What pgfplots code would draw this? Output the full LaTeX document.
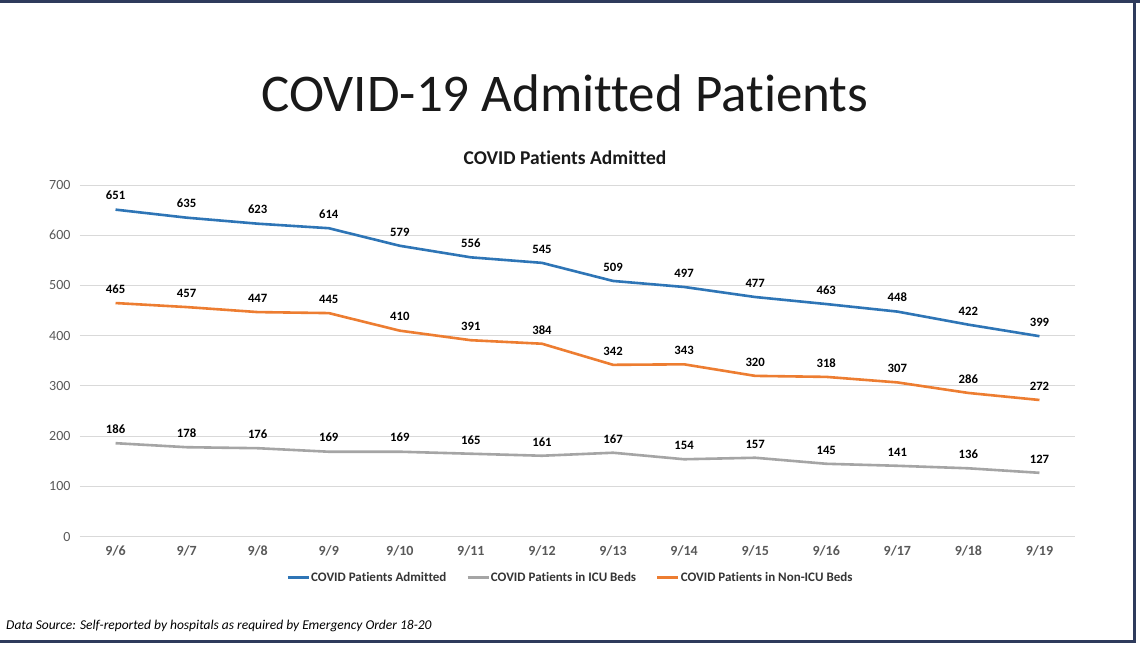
\documentclass[border=0pt]{standalone}
\usepackage{pgfplots}
\pgfplotsset{compat=1.18}
\usepackage{fontspec}
\setmainfont[Ligatures=NoCommon]{Carlito}
\definecolor{cblue}{HTML}{2E75B6}
\definecolor{corange}{HTML}{ED7D31}
\definecolor{cgray}{HTML}{A5A5A5}
\definecolor{navy}{HTML}{2F3B5C}
\definecolor{gridc}{HTML}{D9D9D9}
\definecolor{tickc}{HTML}{595959}
\begin{document}
\begin{tikzpicture}[x=1pt,y=1pt]
\useasboundingbox (0,0) rectangle (1140,-648);
\fill[white] (0,0) rectangle (1140,-648);
\fill[navy] (0,0) rectangle (1140,-3);
\fill[navy] (1133,0) rectangle (1136,-643);
\fill[navy] (0,-640) rectangle (1136,-643);
\node[font=\fontsize{53}{56}\selectfont, text=black!90] at (565,-93) {COVID-19 Admitted Patients};
\node[font=\fontsize{19.5}{22}\selectfont\bfseries, text=black!90] at (565,-158) {COVID Patients Admitted};
\node[font=\fontsize{13.5}{15}\selectfont\itshape, text=black, anchor=west, inner sep=0pt] at (6,-626) {Data Source: Self-reported by hospitals as required by Emergency Order 18-20};
\begin{axis}[
  at={(80pt,-536.6pt)}, anchor=south west,
  scale only axis, width=995pt, height=351.6pt,
  xmin=-0.5, xmax=13.5, ymin=0, ymax=700,
  axis line style={draw=none},
  major tick length=0pt,
  xtick={0,...,13},
  xticklabels={9/6,9/7,9/8,9/9,9/10,9/11,9/12,9/13,9/14,9/15,9/16,9/17,9/18,9/19},
  ytick={0,100,...,700},
  ymajorgrids, grid style={gridc, line width=1pt},
  yticklabel style={font=\fontsize{14}{16}\selectfont, text=tickc, xshift=-6pt},
  xticklabel style={font=\fontsize{14}{16}\selectfont\bfseries, text=tickc, yshift=-6pt},
  /pgf/number format/assume math mode=true,
  every axis plot/.append style={line width=2.6pt, no markers},
  nodes near coords,
  every node near coord/.append style={font=\fontsize{12.7}{14}\selectfont\bfseries, text=black, yshift=5pt},
  legend style={at={(axis description cs:0.4925,-0.1166)}, anchor=center, draw=none,
    font=\fontsize{13}{15}\selectfont\bfseries, text=tickc!60!black, legend columns=3,
    nodes={inner xsep=1pt},
    /tikz/every even column/.append style={column sep=19pt}},
  legend image code/.code={\draw[#1] (0pt,0pt) -- (21pt,0pt);},
]
\pgfplotsset{ytick style={draw=none}}
\addplot[cblue] coordinates {(0,651)(1,635)(2,623)(3,614)(4,579)(5,556)(6,545)(7,509)(8,497)(9,477)(10,463)(11,448)(12,422)(13,399)};
\addlegendentry{COVID Patients Admitted}
\addplot[cgray] coordinates {(0,186)(1,178)(2,176)(3,169)(4,169)(5,165)(6,161)(7,167)(8,154)(9,157)(10,145)(11,141)(12,136)(13,127)};
\addlegendentry{COVID Patients in ICU Beds}
\addplot[corange] coordinates {(0,465)(1,457)(2,447)(3,445)(4,410)(5,391)(6,384)(7,342)(8,343)(9,320)(10,318)(11,307)(12,286)(13,272)};
\addlegendentry{COVID Patients in Non-ICU Beds}
\end{axis}
\end{tikzpicture}
\end{document}
